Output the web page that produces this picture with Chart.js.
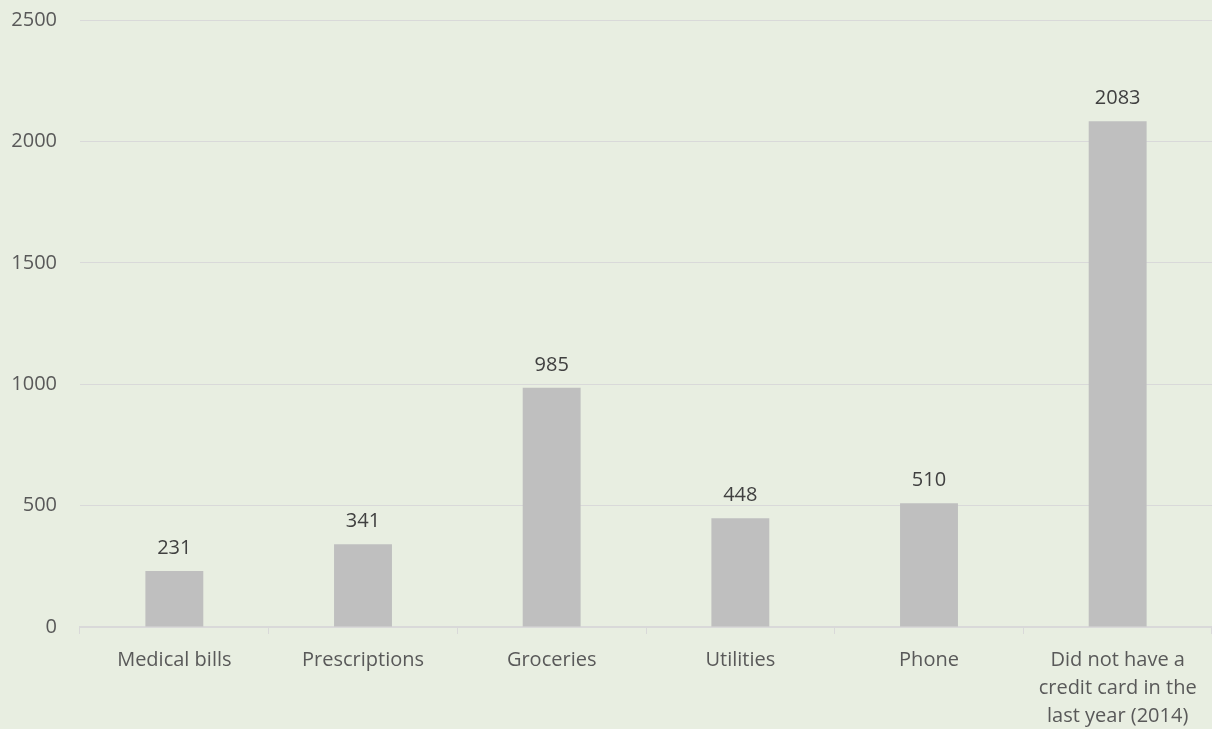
<!DOCTYPE html>
<html>
<head>
<meta charset="utf-8">
<script src="https://cdn.jsdelivr.net/npm/chart.js@4"></script>
<style>
  html, body { margin: 0; padding: 0; background: #e8eee1; }
  #wrap { width: 1212px; height: 729px; }
</style>
</head>
<body>
<div id="wrap"><canvas id="myChart" width="1212" height="729"></canvas></div>
<script>
var categories = [
  'Medical bills',
  'Prescriptions',
  'Groceries',
  'Utilities',
  'Phone',
  ['Did not have a', 'credit card in the', 'last year (2014)']
];
var counts = [231, 341, 985, 448, 510, 2083];
var yTicks = [0, 500, 1000, 1500, 2000, 2500];

// background + value labels above bars
var bgPlugin = {
  id: 'bg',
  beforeDraw: function(chart) {
    var c = chart.ctx;
    c.save();
    c.fillStyle = '#e8eee1';
    c.fillRect(0, 0, chart.width, chart.height);
    c.restore();
  }
};

var valueLabels = {
  id: 'valueLabels',
  afterDatasetsDraw: function(chart) {
    var c = chart.ctx;
    var meta = chart.getDatasetMeta(0);
    c.save();
    c.font = '20px "Open Sans", sans-serif';
    c.fillStyle = '#404040';
    c.textAlign = 'center';
    c.textBaseline = 'middle';
    meta.data.forEach(function(bar, i) {
      c.fillText(counts[i], bar.x, bar.y - 23);
    });
    c.restore();
  }
};

var ctx = document.getElementById('myChart').getContext('2d');
var myChart = new Chart(ctx, {
  type: 'bar',
  data: {
    labels: categories,
    datasets: [{
      label: 'Count',
      data: counts,
      backgroundColor: '#bfbfbf',
      categoryPercentage: 1,
      barPercentage: 0.307
    }]
  },
  plugins: [bgPlugin, valueLabels],
  options: {
    responsive: false,
    animation: false,
    layout: { padding: { left: 0, right: 0, top: 20, bottom: 0 } },
    plugins: {
      legend: { display: false },
      tooltip: { enabled: false }
    },
    scales: {
      x: {
        grid: {
          display: true,
          offset: true,
          drawOnChartArea: false,
          color: '#d9d9d9',
          tickLength: 7
        },
        border: { color: '#d9d9d9', width: 2 },
        ticks: {
          color: '#595959',
          font: { family: '"Open Sans", sans-serif', size: 20, lineHeight: 1.4 },
          padding: 12,
          maxRotation: 0,
          autoSkip: false
        },
        afterFit: function(axis) {
          axis.height = 102;
        }
      },
      y: {
        min: 0,
        max: 2500,
        afterBuildTicks: function(axis) {
          axis.ticks = yTicks.map(function(v) { return { value: v }; });
        },
        grid: {
          color: '#d9d9d9',
          lineWidth: 1,
          drawTicks: false
        },
        border: { display: false },
        ticks: {
          color: '#595959',
          font: { family: '"Open Sans", sans-serif', size: 20 },
          padding: 23,
          callback: function(v) { return String(v); }
        },
        afterFit: function(axis) {
          axis.width = 80;
          axis.paddingTop = 0;
          axis.paddingBottom = 0;
        }
      }
    }
  }
});
</script>
</body>
</html>
